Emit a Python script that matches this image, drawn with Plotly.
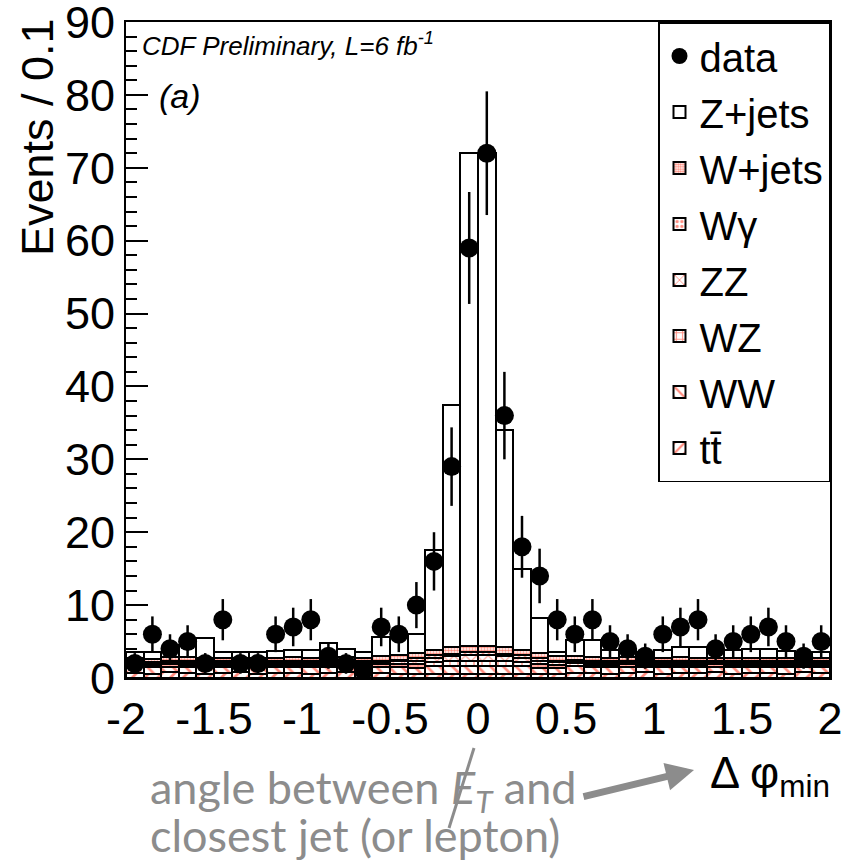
import plotly.graph_objects as go

# ---------------- data ----------------
bin_centers = [round(-1.95 + 0.1 * i, 2) for i in range(40)]

data_counts = [2, 6, 4, 5, 2, 8, 2, 2, 6, 7,
               8, 3, 2, 1, 7, 6, 10, 16, 29, 59,
               72, 36, 18, 14, 8, 6, 8, 5, 4, 3,
               6, 7, 8, 4, 5, 6, 7, 5, 3, 5]

ttbar = [0.7, 0.6, 0.8, 0.7, 0.6, 0.7, 0.8, 0.6, 0.7, 0.7,
         0.6, 0.7, 0.8, 0.6, 0.7, 0.6, 0.5, 0.6, 0.6, 0.5,
         0.5, 0.6, 0.6, 0.5, 0.6, 0.7, 0.7, 0.6, 0.7, 0.8,
         0.6, 0.7, 0.7, 0.8, 0.6, 0.7, 0.7, 0.6, 0.8, 0.7]
ww = [0.8, 0.9, 0.7, 0.8, 0.9, 0.8, 0.7, 0.9, 0.8, 0.8,
      0.9, 0.8, 0.7, 0.9, 0.8, 0.9, 0.9, 1.0, 1.0, 1.1,
      1.1, 1.0, 1.0, 0.9, 0.8, 0.9, 0.8, 0.9, 0.8, 0.7,
      0.9, 0.8, 0.8, 0.7, 0.9, 0.8, 0.8, 0.9, 0.7, 0.8]
wz = [0.3, 0.3, 0.4, 0.3, 0.3, 0.3, 0.3, 0.4, 0.3, 0.3,
      0.3, 0.3, 0.4, 0.3, 0.4, 0.4, 0.5, 0.6, 0.7, 0.8,
      0.8, 0.7, 0.6, 0.5, 0.4, 0.4, 0.3, 0.3, 0.4, 0.3,
      0.3, 0.3, 0.3, 0.4, 0.3, 0.3, 0.3, 0.3, 0.3, 0.3]
zz = [0.3, 0.2, 0.3, 0.3, 0.2, 0.3, 0.3, 0.2, 0.3, 0.3,
      0.3, 0.3, 0.3, 0.3, 0.3, 0.4, 0.5, 0.6, 0.7, 0.8,
      0.8, 0.7, 0.6, 0.5, 0.4, 0.3, 0.3, 0.3, 0.3, 0.3,
      0.3, 0.3, 0.3, 0.2, 0.3, 0.3, 0.3, 0.3, 0.3, 0.3]
wgamma = [0.2, 0.2, 0.2, 0.2, 0.2, 0.2, 0.2, 0.2, 0.2, 0.2,
          0.2, 0.2, 0.2, 0.2, 0.2, 0.2, 0.3, 0.3, 0.3, 0.3,
          0.3, 0.3, 0.3, 0.3, 0.2, 0.2, 0.2, 0.2, 0.2, 0.2,
          0.2, 0.2, 0.2, 0.2, 0.2, 0.2, 0.2, 0.2, 0.2, 0.2]
wjets = [0.5, 0.4, 0.5, 0.6, 0.5, 0.4, 0.5, 0.5, 0.4, 0.6,
         0.5, 0.6, 0.5, 0.4, 0.6, 0.6, 0.7, 0.8, 0.9, 0.9,
         0.9, 0.9, 0.8, 0.7, 0.6, 0.5, 0.6, 0.5, 0.5, 0.4,
         0.5, 0.6, 0.5, 0.5, 0.4, 0.5, 0.5, 0.4, 0.5, 0.4]
zjets = [0.7, 0.9, 0.7, 1.6, 2.8, 0.9, 0.8, 0.7, 1.0, 0.9,
         1.1, 1.9, 1.1, 0.8, 2.6, 2.5, 2.6, 13.6, 33.3, 67.6,
         67.6, 29.8, 11.1, 4.8, 0.6, 2.2, 2.3, 1.0, 1.1, 0.9,
         1.1, 1.4, 1.4, 1.1, 1.1, 1.2, 1.2, 1.0, 0.7, 0.9]

x_tick_vals = [-2, -1.5, -1, -0.5, 0, 0.5, 1, 1.5, 2]
x_tick_text = ["-2", "-1.5", "-1", "-0.5", "0", "0.5", "1", "1.5", "2"]

# ---------------- figure ----------------
RED = "#ff1a00"
fig = go.Figure()

# (name, values, pattern shape, pattern size, solidity, legend rank)
stack = [
    ("tt\u0304", ttbar, "/", 9, 0.3, 8),
    ("WW", ww, "\\", 9, 0.3, 7),
    ("WZ", wz, "+", 8, 0.3, 6),
    ("ZZ", zz, "x", 8, 0.25, 5),
    ("W\u03b3", wgamma, ".", 6, 0.35, 4),
    ("W+jets", wjets, ".", 3, 0.55, 3),
]
for name, vals, shape, size, sol, rank in stack:
    fig.add_trace(go.Bar(
        x=bin_centers, y=vals, width=0.1, name=name, legendgroup=name, legendrank=rank,
        marker=dict(color="white", line=dict(color="black", width=2),
                    pattern=dict(shape=shape, fgcolor=RED, bgcolor="white",
                                 size=size, solidity=sol, fillmode="overlay")),
    ))

fig.add_trace(go.Bar(
    x=bin_centers, y=zjets, width=0.1, name="Z+jets", legendgroup="Z+jets", legendrank=2,
    marker=dict(color="white", line=dict(color="black", width=2)),
))

fig.add_trace(go.Scatter(
    x=bin_centers, y=data_counts, mode="markers", name="data", legendgroup="data",
    legendrank=1,
    marker=dict(color="black", size=19, symbol="circle"),
    error_y=dict(type="data", array=[v ** 0.5 for v in data_counts],
                 color="black", thickness=2.5, width=0),
))

L, R, T, B = 126, 14, 22, 183
W, H = 844, 861
pw, ph = W - L - R, H - T - B


def px(xp):
    return (xp - L) / pw


def py(yp):
    return (H - B - yp) / ph


fig.update_layout(
    width=W, height=H,
    margin=dict(l=L, r=R, t=T, b=B, autoexpand=False),
    paper_bgcolor="white", plot_bgcolor="white",
    barmode="stack", bargap=0,
    font=dict(family="Liberation Sans, Arial, sans-serif", color="black"),
    showlegend=True,
    legend=dict(x=1, xanchor="right", y=1, yanchor="top",
                bgcolor="white", bordercolor="black", borderwidth=1.5,
                font=dict(size=40, family="Liberation Sans, Arial, sans-serif"),
                traceorder="grouped", tracegroupgap=1,
                itemwidth=30),
    xaxis=dict(range=[-2, 2], tickvals=x_tick_vals, ticktext=x_tick_text,
               ticks="inside", ticklen=20, tickwidth=1.5, tickcolor="black",
               minor=dict(dtick=0.1, ticks="inside", ticklen=10, tickcolor="black"),
               showline=True, linecolor="black", linewidth=2, mirror=True,
               showgrid=False, zeroline=False, automargin=False,
               ticklabeloverflow="allow",
               tickfont=dict(size=45)),
    yaxis=dict(range=[0, 90], dtick=10,
               ticks="inside", ticklen=22, tickwidth=1.5, tickcolor="black",
               minor=dict(dtick=2, ticks="inside", ticklen=11, tickcolor="black"),
               showline=True, linecolor="black", linewidth=2, mirror=True,
               showgrid=False, zeroline=False, automargin=False,
               ticklabeloverflow="allow",
               tickfont=dict(size=45)),
)

ann = []
ann.append(dict(xref="paper", yref="paper", x=px(37), y=py(16), xanchor="center", yanchor="top",
                text="Events / 0.1", textangle=-90, showarrow=False,
                font=dict(size=45, color="black")))
ann.append(dict(xref="paper", yref="paper", x=px(140), y=py(45), xanchor="left", yanchor="middle",
                text="<i>CDF Preliminary, L=6 fb<sup>-1</sup></i>", showarrow=False,
                font=dict(size=26, color="black")))
ann.append(dict(xref="paper", yref="paper", x=px(157), y=py(96), xanchor="left", yanchor="middle",
                text="<i>(a)</i>", showarrow=False, font=dict(size=34, color="black")))
ann.append(dict(xref="paper", yref="paper", x=px(832), y=py(775), xanchor="right", yanchor="middle",
                text="\u0394 \u03c6<sub>min</sub>", showarrow=False,
                font=dict(size=45, color="black")))
GRAY = "#8c8c8c"
ann.append(dict(xref="paper", yref="paper", x=px(148), y=py(790), xanchor="left", yanchor="middle",
                text="angle between <i>E</i><sub><i>T</i></sub> and", showarrow=False,
                font=dict(size=45, color=GRAY, family="Lato, Open Sans, sans-serif")))
ann.append(dict(xref="paper", yref="paper", x=px(148), y=py(835), xanchor="left", yanchor="middle",
                text="closest jet (or lepton)", showarrow=False,
                font=dict(size=45, color=GRAY, family="Lato, Open Sans, sans-serif")))
ann.append(dict(xref="paper", yref="paper", x=px(694), y=py(770), ax=-112, ay=27,
                text="", showarrow=True, arrowhead=2, arrowsize=0.8, arrowwidth=7,
                arrowcolor=GRAY))
fig.update_layout(annotations=ann)

fig.add_shape(type="line", xref="paper", yref="paper",
              x0=px(474), y0=py(748), x1=px(449), y1=py(828),
              line=dict(color=GRAY, width=3))

fig.write_html("out.html")
